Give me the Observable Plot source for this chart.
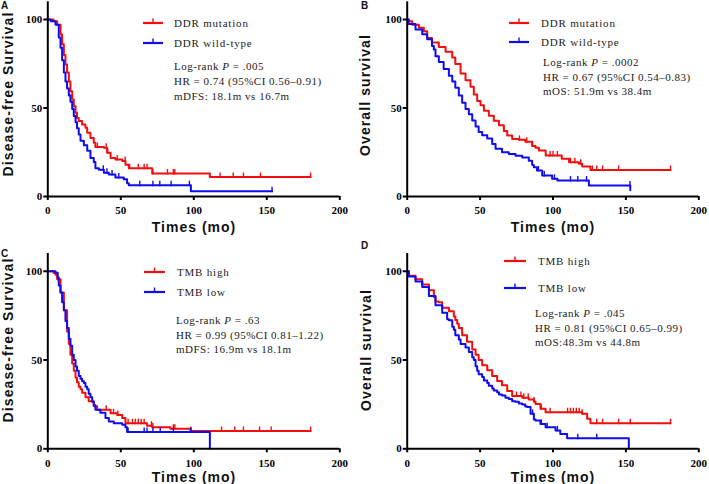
<!DOCTYPE html>
<html><head><meta charset="utf-8">
<script src="https://cdn.jsdelivr.net/npm/d3@7"></script>
<script src="https://cdn.jsdelivr.net/npm/@observablehq/plot@0.6"></script>
<style>
body{margin:0;background:#fff;}
#root{position:relative;width:709px;height:484px;overflow:hidden;background:#fff;}
.panel{position:absolute;}
.lab{position:absolute;white-space:nowrap;line-height:1;transform:translateY(-50%);}
.serif{font-family:"Liberation Serif","Times New Roman",serif;font-size:11px;color:#222;letter-spacing:0.5px;}
.leg{letter-spacing:0.8px;}
.title{font-family:"Liberation Sans",Arial,sans-serif;font-weight:bold;font-size:14px;color:#111;}
.xt{letter-spacing:1px;transform:translate(-50%,-50%);}
.yt{letter-spacing:1.1px;transform:translate(-50%,-50%) rotate(-90deg);}
.letter{font-family:"Liberation Sans",Arial,sans-serif;font-weight:bold;font-size:10px;color:#111;}
svg.legline{position:absolute;overflow:visible;}
</style></head>
<body><div id="root"></div>
<script>
const RED = "#f40d0d", BLUE = "#0d0df0";
const xTicks = [0, 50, 100, 150, 200];
const yTicks = [0, 50, 100];

// Panel A: DFS by DDR status  [time (mo), survival %]
const aMut = [[0,100],[4,99],[6.4,97],[8.7,91.5],[9.8,86],[11,80],[12.1,74.6],[13.2,70],[14.4,65],[15.5,59.5],[16.7,54.8],[17.8,51],[19,47.3],[20,44.4],[21.2,42.6],[23.5,40.7],[25.8,38.8],[27,36],[29.2,33],[31.5,30.3],[32.6,27.9],[38.4,27.5],[40.6,24.7],[43,21.8],[46.3,20.9],[51,20],[53.2,18],[55.5,16],[71.5,13],[111,11],[180,11]];
const aWt = [[0,100],[2,99],[5.3,97],[7.5,89.8],[8.7,84],[9.8,77],[11,70],[12.1,65],[13.2,61],[14.4,57],[15.5,53.5],[16.7,49.5],[17.8,45.5],[19,42],[20,38.5],[21.2,35],[22.4,31.5],[24.7,29],[27,25.8],[29.2,21.8],[31.5,19.5],[32.6,16],[35,15.1],[38.4,13.4],[41.8,12.4],[46.3,10.8],[52,9.8],[54.3,7.5],[55.5,6.4],[98,3],[153.6,3]];
const aMutCens = [34,40,41,47.5,53,56,62,66,68,72,82,86,87,118,127,134,145.7,180];
const aWtCens = [38,40.5,44,48.6,63,72,76.7,84.5,97,153.6];

// Panel B: OS by DDR status
const bMut = [[0,100],[1,99],[3.4,97],[8,95.3],[11.4,93.4],[13.7,89.6],[17,87],[21.7,84.5],[26.3,81.8],[30.9,78.5],[33,74.8],[36.6,69.5],[40,65.7],[43.4,62],[45.7,57.6],[48,54],[50.3,51.5],[52.6,48.4],[56,45.6],[59.4,42.8],[62.9,40.3],[66.3,37],[68.6,34.5],[72,32.5],[76.6,32],[81,31],[85.7,28.5],[88,27.5],[90.3,26],[95,23.2],[106,21.3],[111,19.4],[117.7,18.5],[120,17],[125.7,15],[180.6,15]];
const bWt = [[0,100],[1,97.5],[5.7,94.3],[10.3,91.7],[13.7,88.8],[17,85],[18.3,83],[19.4,79.3],[21.7,76],[25,72],[28.6,68.2],[30.9,65],[33,61.5],[35.4,57],[37.7,53],[40,49.5],[42.3,46.5],[44.6,43],[46.9,39.5],[49,36.5],[51.4,34.6],[54.9,32.8],[58.3,29.6],[60.6,27],[65,25],[69.7,24],[74.3,23],[78.9,22],[83.4,20.2],[85.7,17.8],[86.9,16.5],[89,14.7],[92.6,11.9],[99.4,10],[103,9],[124.6,6.2],[153,3.5]];
const bMutCens = [77,82,86,98,100,103,112,115,119,127,130,134,145,180.6];
const bWtCens = [90,94,101,112,117,123,152.8];

// Panel C: DFS by TMB
const cHigh = [[0,100],[4,99],[5.3,98],[6.4,95.5],[8.7,88],[11,78],[13.2,66],[14.4,59],[15.5,53],[16.7,48],[17.8,44],[19,40],[20,37.5],[21.2,35],[22.4,33.5],[23.5,31.5],[25.8,29],[28,26.8],[31.5,24],[33.8,22],[43,20],[47.5,19],[51,17.3],[53.2,14.4],[68,13],[71.5,12.2],[84,11.3],[97.7,10],[180,10]];
const cLow = [[0,100],[5.3,99.2],[6.8,96.5],[7.5,92],[8.7,88],[9.8,82.5],[11,78],[12.1,72],[13.2,68],[14.4,62],[15.5,58],[16.7,53],[17.8,50],[19,46.3],[20,44],[21.2,41],[22.4,39.5],[23.5,38],[24.7,37],[25.8,35],[27,33.5],[28,31],[29.2,29],[30.4,26.5],[31.5,24.5],[32.6,22],[36,20.3],[39.5,17.3],[41.8,15.4],[45.2,14.4],[51,13.5],[53.2,12.2],[54.3,9.4],[111,0]];
const cHighCens = [40,45,48,55,58,60,62,64,66,71,72,86,87,98,119,128,134,145,153,180];
const cLowCens = [55,66,68,72,77,86,98];

// Panel D: OS by TMB
const dHigh = [[0,100],[1.1,97.5],[5.7,95.5],[10.3,92.6],[14.9,89.3],[18.3,85.5],[19.4,83],[21.7,82.5],[24,79.5],[28.6,77.5],[32,74.5],[33,72.6],[34.3,70.4],[35.4,68],[37.7,64],[41,60.3],[44.6,56],[46.9,53],[49,50],[51.4,47],[54.9,44.2],[58.3,41],[61.7,38.2],[65,35.8],[68.6,32.5],[72,29.7],[78.9,28.7],[83.4,27.8],[86.9,26.6],[88,25.3],[91.4,22.5],[94.9,20.6],[120,19.7],[123.4,16.9],[125.7,14.4],[180.6,14.4]];
const dLow = [[0,100],[1.1,97],[5.7,94.3],[10.3,91.2],[14.9,86],[19.4,80.8],[24,76.6],[27.4,73],[28.6,72.4],[30.9,68.8],[32,67],[33,64],[35.4,61.5],[36.6,59],[40,57],[42.3,54.5],[44.6,51.5],[45.7,50],[46.9,46.5],[48,44],[49,42],[51.4,40.5],[52.6,38.5],[54.9,37],[56,35.5],[58.3,34],[59.4,32.8],[61.7,31.8],[62.9,30.6],[65,30],[67.4,28.7],[69.7,28],[72,26.8],[74.3,26.5],[76.6,25.5],[78.9,25],[81,23.8],[82.3,23.5],[84.6,19.7],[86.9,16.5],[88,16],[91.4,14],[94.9,12.2],[101.7,10.3],[105,8.4],[109.7,6],[152,0]];
const dHighCens = [75,78,80,83,87,92,98,110,112,114,116,118,120,130,134,145,153,180.6];
const dLowCens = [86,92,96,103,117,130];

const panelLetters = ["A","B","C","D"];
const yTitles = ["Disease-free Survival","Overall survival","Disease-free Survival","Overall survival"];
const xTitle = "Times (mo)";
const legendNames = [["DDR mutation","DDR wild-type"],["DDR mutation","DDR wild-type"],["TMB high","TMB low"],["TMB high","TMB low"]];
const statLines = [
  ["Log-rank <i>P</i> = .005","HR = 0.74 (95%CI 0.56–0.91)","mDFS: 18.1m vs 16.7m"],
  ["Log-rank <i>P</i> = .0002","HR = 0.67 (95%CI 0.54–0.83)","mOS: 51.9m vs 38.4m"],
  ["Log-rank <i>P</i> = .63","HR = 0.99 (95%CI 0.81–1.22)","mDFS: 16.9m vs 18.1m"],
  ["Log-rank <i>P</i> = .045","HR = 0.81 (95%CI 0.65–0.99)","mOS:48.3m vs 44.8m"]
];
const curves = [[aMut,aWt],[bMut,bWt],[cHigh,cLow],[dHigh,dLow]];
const censors = [[aMutCens,aWtCens],[bMutCens,bWtCens],[cHighCens,cLowCens],[dHighCens,dLowCens]];

// layout (pixels)
const layout = [
  {left:0,top:0,w:355,h:240,ml:47.3,mr:15.7,mt:1.3,mb:44, letter:[1,6], leg:{x0:143,x1:163,ty:174,y:[23,43]}, st:{x:174,y:[66,81,96]}, yt:[8,94], xt:[194,227]},
  {left:355,top:0,w:354,h:240,ml:51.7,mr:10.7,mt:1.3,mb:44, letter:[361,6], leg:{x0:509,x1:529,ty:541,y:[23,42]}, st:{x:543,y:[62,76.5,90.5]}, yt:[365,95], xt:[553,227]},
  {left:0,top:240,w:355,h:244,ml:47.3,mr:15.7,mt:13,mb:35.7, letter:[1,253.5], leg:{x0:144,x1:165,ty:177,y:[272,292]}, st:{x:176,y:[320,335,349]}, yt:[8,340], xt:[194,477]},
  {left:355,top:240,w:354,h:244,ml:51.7,mr:10.7,mt:13,mb:35.7, letter:[361,246], leg:{x0:504,x1:526,ty:538,y:[261,288]}, st:{x:535,y:[312.5,327.5,342]}, yt:[366,350], xt:[553,477]}
];

const censorSym = {draw(ctx){ ctx.moveTo(0, 1); ctx.lineTo(0, -4.5); }};
function survAt(curve, t){ let s = curve[0][1]; for (const [ti, si] of curve) { if (ti <= t) s = si; } return s; }

const root = document.getElementById("root");
const colors = [RED, BLUE];

layout.forEach((L, i) => {
  const marks = [];
  curves[i].forEach((cv, j) => {
    const data = cv.map(([t, s]) => ({t, s}));
    marks.push(Plot.line(data, {x:"t", y:"s", curve:"step-after", stroke:colors[j], strokeWidth:2}));
    const cd = censors[i][j].map(t => ({t, s: survAt(cv, t)}));
    marks.push(Plot.dot(cd, {x:"t", y:"s", symbol:censorSym, stroke:colors[j], fill:"none", strokeWidth:1.4}));
  });
  const chart = Plot.plot({
    width:L.w, height:L.h, marginLeft:L.ml, marginRight:L.mr, marginTop:L.mt, marginBottom:L.mb,
    x:{domain:[0,200]}, y:{domain:[0,110]},
    style:{fontFamily:'"Liberation Serif",serif', fontSize:"11px", fontWeight:"bold", color:"#000", background:"transparent", overflow:"visible"},
    marks:[
      Plot.axisX({ticks:xTicks, tickSize:4, tickPadding:6, strokeWidth:2, label:null}),
      Plot.axisY({ticks:yTicks, tickSize:4, tickPadding:1.5, strokeWidth:2, label:null}),
      ...marks,
      Plot.ruleX([0], {strokeWidth:2}),
      Plot.ruleY([0], {strokeWidth:2})
    ]
  });
  const div = document.createElement("div");
  div.className = "panel";
  div.style.left = L.left + "px"; div.style.top = L.top + "px";
  div.appendChild(chart);
  root.appendChild(div);

  const add = (html, cls, x, y) => {
    const e = document.createElement("div");
    e.className = "lab " + cls; e.innerHTML = html;
    e.style.left = x + "px"; e.style.top = y + "px";
    root.appendChild(e); return e;
  };
  add(panelLetters[i], "letter", L.letter[0], L.letter[1]);
  add(yTitles[i], "title yt", L.yt[0], L.yt[1]);
  add(xTitle, "title xt", L.xt[0], L.xt[1]);
  legendNames[i].forEach((name, j) => {
    add(name, "serif leg", L.leg.ty, L.leg.y[j]);
    const ns = "http://www.w3.org/2000/svg";
    const s = document.createElementNS(ns, "svg");
    s.setAttribute("class", "legline");
    s.setAttribute("width", L.leg.x1 - L.leg.x0); s.setAttribute("height", 1);
    s.style.left = L.leg.x0 + "px"; s.style.top = L.leg.y[j] + "px";
    const mid = (L.leg.x1 - L.leg.x0) / 2;
    s.innerHTML = `<line x1="0" x2="${L.leg.x1 - L.leg.x0}" y1="0" y2="0" stroke="${colors[j]}" stroke-width="2.2"/><line x1="${mid}" x2="${mid}" y1="0" y2="-4.5" stroke="${colors[j]}" stroke-width="1.4"/>`;
    root.appendChild(s);
  });
  statLines[i].forEach((txt, k) => add(txt, "serif", L.st.x, L.st.y[k]));
});
</script>
</body></html>
